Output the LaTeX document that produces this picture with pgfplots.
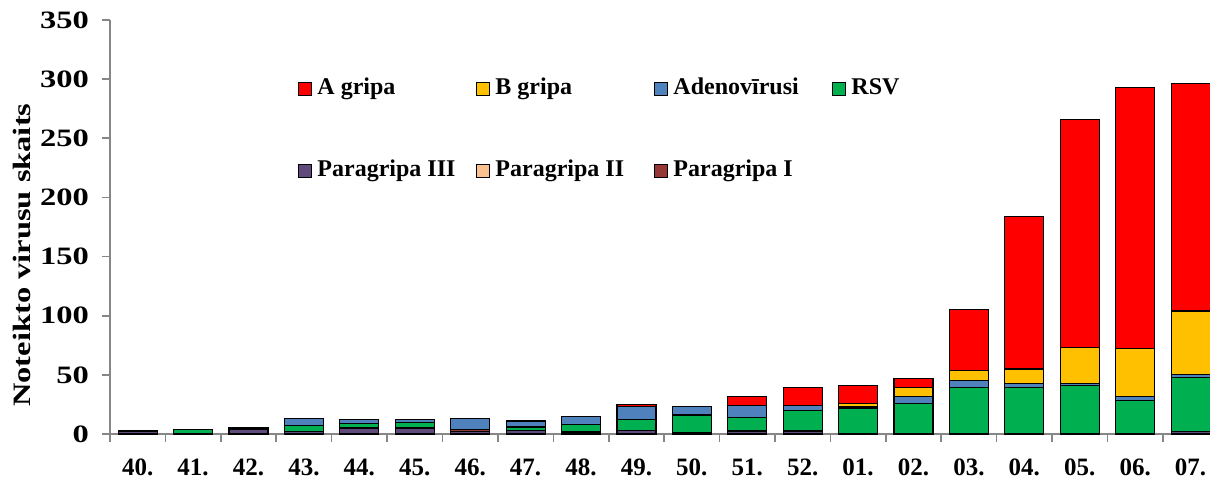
\documentclass[border=0pt]{standalone}
\usepackage{fontspec}
\setmainfont{Liberation Serif}
\newfontfamily\widefont{Liberation Serif}[FakeStretch=1.3]
\usepackage{pgfplots}
\usepackage{pgfplotstable}
\pgfplotsset{compat=1.18}

\definecolor{gripaA}{HTML}{FF0000}
\definecolor{gripaB}{HTML}{FFC000}
\definecolor{adeno}{HTML}{4F81BD}
\definecolor{rsv}{HTML}{00B050}
\definecolor{paraIII}{HTML}{604A7B}
\definecolor{paraII}{HTML}{FAC090}
\definecolor{paraI}{HTML}{953735}
\definecolor{axisgray}{HTML}{868686}

% weeks 40.-07.; stacked bottom-up: Paragripa III, II, I, RSV, Adenovirusi, B, A
\pgfplotstableread{
wk pIII pII pI rsv adeno gB gA
0  2 0 1 0  0  0  0
1  0 0 0 4  0  0  0
2  4 0 1 0  0  0  0
3  2 0 0 5  6  0  0
4  5 0 0 4  3  0  0
5  5 0 0 5  2  0  0
6  2 0 2 0  9  0  0
7  3 0 0 3  5  0  0
8  1 0 1 6  7  0  0
9  3 0 0 9  11 0  2
10 1 0 0 15 7  0  0
11 2 0 1 11 10 0  8
12 2 0 1 17 4  0  15
13 0 0 0 22 1  3  15
14 0 0 0 26 6  7  8
15 0 0 0 39 6  9  51
16 0 0 0 39 4  12 129
17 0 0 0 41 2  30 193
18 0 0 0 28 4  40 221
19 2 0 0 46 2  54 192
}\data

\begin{document}
\begin{tikzpicture}
\useasboundingbox (-55pt,-22.5pt) rectangle (550pt,217pt);
\begin{axis}[
  at={(0,0)}, anchor=south west,
  scale only axis, width=550pt, height=207pt,
  ybar stacked, bar width=19.5pt,
  xmin=-0.5, xmax=19.35, ymin=0, ymax=350,
  ytick={0,50,...,350},
  xtick={0,...,19},
  xticklabels={40.,41.,42.,43.,44.,45.,46.,47.,48.,49.,50.,51.,52.,01.,02.,03.,04.,05.,06.,07.},
  minor xtick={-0.5,0.5,...,18.5},
  axis x line*=bottom, axis y line*=left,
  axis line style={axisgray, line width=0.8pt},
  tick align=outside,
  major x tick style={draw=none},
  minor x tick style={axisgray, line width=0.8pt},
  ytick style={axisgray, line width=0.8pt},
  major tick length=4pt, minor tick length=4pt,
  tick label style={font=\bfseries\fontsize{12.5}{14}\selectfont},
  /pgf/number format/assume math mode=true,
  xticklabel style={yshift=-5pt},
  yticklabel style={xshift=-3pt, font=\widefont\bfseries\fontsize{12.5}{14}\selectfont},
  ylabel={Noteikto virusu skaits},
  ylabel style={font=\widefont\bfseries\fontsize{12.5}{14}\selectfont, at={(axis description cs:-0.08,0.432)}, anchor=center},
  legend columns=4,
  legend cell align=left,
  legend style={draw=none, fill=none, at={(axis description cs:0.1655,0.87)}, anchor=north west,
    column sep=0pt, row sep=30pt, font=\bfseries\fontsize{12}{14}\selectfont,
    nodes={inner xsep=2.5pt, inner ysep=0pt, text height=8pt, text depth=3pt}},
  legsq/.style={legend image code/.code={\draw[##1,draw=black,line width=0.5pt] (0pt,-3.25pt) rectangle (6.5pt,3.25pt);}},
]
\addplot[fill=paraIII, draw=black, line width=0.6pt, forget plot] table[x=wk, y=pIII]{\data};
\addplot[fill=paraII, draw=black, line width=0.6pt, forget plot] table[x=wk, y=pII]{\data};
\addplot[fill=paraI, draw=black, line width=0.6pt, forget plot] table[x=wk, y=pI]{\data};
\addplot[fill=rsv, draw=black, line width=0.6pt, forget plot] table[x=wk, y=rsv]{\data};
\addplot[fill=adeno, draw=black, line width=0.6pt, forget plot] table[x=wk, y=adeno]{\data};
\addplot[fill=gripaB, draw=black, line width=0.6pt, forget plot] table[x=wk, y=gB]{\data};
\addplot[fill=gripaA, draw=black, line width=0.6pt, forget plot] table[x=wk, y=gA]{\data};

\addlegendimage{legsq, fill=gripaA}
\addlegendentry{\makebox[77pt][l]{A gripa}}
\addlegendimage{legsq, fill=gripaB}
\addlegendentry{\makebox[77pt][l]{B gripa}}
\addlegendimage{legsq, fill=adeno}
\addlegendentry{\makebox[77pt][l]{Adenovīrusi}}
\addlegendimage{legsq, fill=rsv}
\addlegendentry{\makebox[77pt][l]{RSV}}
\addlegendimage{legsq, fill=paraIII}
\addlegendentry{\makebox[77pt][l]{Paragripa III}}
\addlegendimage{legsq, fill=paraII}
\addlegendentry{\makebox[77pt][l]{Paragripa II}}
\addlegendimage{legsq, fill=paraI}
\addlegendentry{\makebox[77pt][l]{Paragripa I}}
\end{axis}
\end{tikzpicture}
\end{document}
